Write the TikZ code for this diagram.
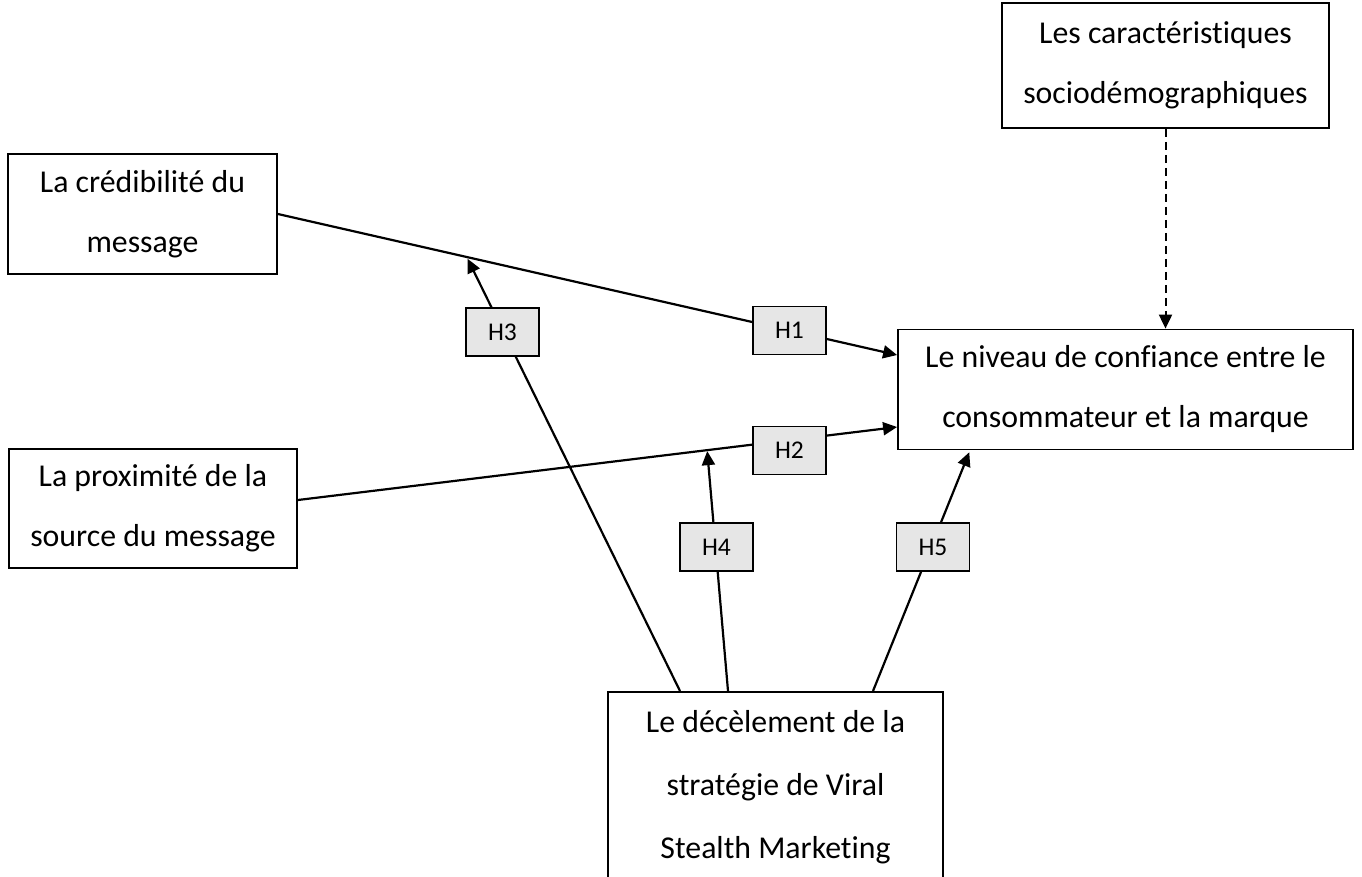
\documentclass[tikz,border=0pt]{standalone}
\usepackage{fontspec}
\setmainfont{Carlito}[Ligatures={NoCommon,NoContextual}]
\usetikzlibrary{arrows.meta,positioning,calc}
\definecolor{hfill}{HTML}{E6E6E6}
\tikzset{
  box/.style={draw=black, line width=1.8pt, fill=white, align=center,
    font=\fontsize{31.8}{60}\selectfont, inner sep=0pt},
  hbox/.style={draw=black, line width=1.8pt, fill=hfill, minimum width=73pt,
    minimum height=48pt, inner sep=0pt, font=\fontsize{25.5}{28}\selectfont},
  conn/.style={line width=2.2pt, -{Triangle[length=14pt,width=13pt]}},
  dconn/.style={line width=2pt, dash pattern=on 8pt off 5pt, -{Triangle[length=14pt,width=13pt]}}
}
\begin{document}
\begin{tikzpicture}[x=1pt,y=-1pt]
\useasboundingbox (0,0) rectangle (1362,876);
\fill[white] (0,0) rectangle (1362,876);

\node[box, minimum width=269pt, minimum height=120pt] (cred) at (142.5,214) {La crédibilité du\\message};
\node[box, minimum width=288pt, minimum height=119pt] (prox) at (153,508.5) {La proximité de la\\source du message};
\node[box, minimum width=327pt, minimum height=125pt] (carac) at (1165.5,65.5) {Les caractéristiques\\sociodémographiques};
\node[box, minimum width=455pt, minimum height=120pt] (niv) at (1125.5,389.5) {Le niveau de confiance entre le\\consommateur et la marque};
\node[box, minimum width=335pt, minimum height=190pt, anchor=north, font=\fontsize{31.8}{63}\selectfont] (dec) at (775.5,691) {Le décèlement de la\\stratégie de Viral\\Stealth Marketing};

% main effects
\draw[conn] (cred.east) -- coordinate[pos=0.305] (m1) ([yshift=34.5pt]niv.west);
\draw[conn] ([yshift=8.5pt]prox.east) -- coordinate[pos=0.683] (m2) ([yshift=-37.5pt]niv.west);
\draw[dconn] (carac.south) -- (carac.south |- niv.north);

% moderation
\draw[conn, shorten >=2pt] ([xshift=-95.5pt]dec.north) -- (m1);
\draw[conn, shorten >=1pt] ([xshift=-47.5pt]dec.north) -- (m2);
\draw[conn, shorten >=2pt] ([xshift=97.5pt]dec.north) -- ([xshift=-155.5pt]niv.south);

% hypothesis labels
\node[hbox] (h1) at (789.5,330.5) {H1};
\node[hbox] (h2) at (789.5,450.5) {H2};
\node[hbox] (h3) at (502.5,332) {H3};
\node[hbox] (h4) at (716.5,547) {H4};
\node[hbox] (h5) at (933,547) {H5};
\end{tikzpicture}
\end{document}
